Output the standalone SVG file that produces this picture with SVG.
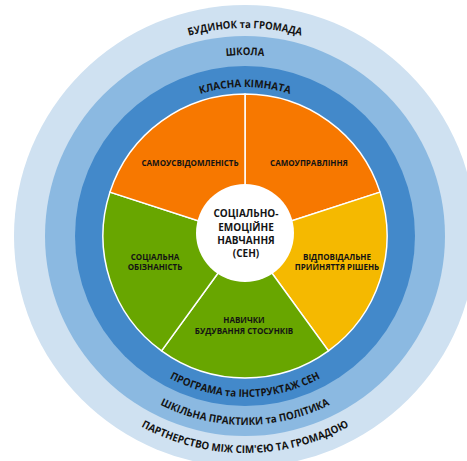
<svg xmlns="http://www.w3.org/2000/svg" xmlns:xlink="http://www.w3.org/1999/xlink" width="467" height="461" viewBox="0 0 467 461">
  <style>
    .ring-txt { font-family: "Open Sans", "Noto Sans", "DejaVu Sans", sans-serif; font-weight: 700; font-size: 10.6px; fill: #141414; }
    .seg-txt { font-family: "Open Sans", "Noto Sans", "DejaVu Sans", sans-serif; font-weight: 700; font-size: 8px; fill: #141414; text-anchor: middle; }
    .core-txt { font-family: "Open Sans", "Noto Sans", "DejaVu Sans", sans-serif; font-weight: 700; font-size: 10px; fill: #141414; text-anchor: middle; }
    .wedge { stroke: #ffffff; stroke-width: 1.5; stroke-linejoin: round; }
  </style>
  <defs>
    <!-- upper arcs run left to right over the top -->
    <path id="top208" d="M 37,236 A 208,208 0 0 1 453,236"/>
    <path id="top181" d="M 64,236 A 181,181 0 0 1 426,236"/>
    <path id="top149" d="M 96,236 A 149,149 0 0 1 394,236"/>
    <!-- lower arcs run left to right under the bottom -->
    <path id="bot161" d="M 84,236 A 161,161 0 0 0 406,236"/>
    <path id="bot189" d="M 56,236 A 189,189 0 0 0 434,236"/>
    <path id="bot217" d="M 28,236 A 217,217 0 0 0 462,236"/>
  </defs>

  <rect width="467" height="461" fill="#ffffff"/>

  <!-- concentric context rings -->
  <g id="ring-home">
    <circle cx="245" cy="236" r="231" fill="#CFE1F1"/>
  </g>
  <g id="ring-school">
    <circle cx="245" cy="236" r="200" fill="#8BB9E1"/>
  </g>
  <g id="ring-classroom">
    <circle cx="245" cy="236" r="170" fill="#4389CA"/>
  </g>

  <!-- ring captions -->
  <g id="ring-labels">
    <text class="ring-txt"><textPath xlink:href="#top208" href="#top208" startOffset="50%" text-anchor="middle" textLength="114" lengthAdjust="spacingAndGlyphs">БУДИНОК та ГРОМАДА</textPath></text>
    <text class="ring-txt"><textPath xlink:href="#top181" href="#top181" startOffset="50%" text-anchor="middle" textLength="38" lengthAdjust="spacingAndGlyphs">ШКОЛА</textPath></text>
    <text class="ring-txt"><textPath xlink:href="#top149" href="#top149" startOffset="50%" text-anchor="middle" textLength="91" lengthAdjust="spacingAndGlyphs">КЛАСНА КІМНАТА</textPath></text>
    <text class="ring-txt"><textPath xlink:href="#bot161" href="#bot161" startOffset="50%" text-anchor="middle" textLength="157" lengthAdjust="spacingAndGlyphs">ПРОГРАМА та ІНСТРУКТАЖ СЕН</textPath></text>
    <text class="ring-txt"><textPath xlink:href="#bot189" href="#bot189" startOffset="50%" text-anchor="middle" textLength="176" lengthAdjust="spacingAndGlyphs">ШКІЛЬНА ПРАКТИКИ та ПОЛІТИКА</textPath></text>
    <text class="ring-txt"><textPath xlink:href="#bot217" href="#bot217" startOffset="50%" text-anchor="middle" textLength="217" lengthAdjust="spacingAndGlyphs">ПАРТНЕРСТВО МІЖ СІМ'ЄЮ ТА ГРОМАДОЮ</textPath></text>
  </g>

  <!-- five competence wedges -->
  <g id="wedge-self-management">
    <path class="wedge" fill="#F77800" d="M 245,236 L 245,94 A 142,142 0 0 1 380.05,192.12 Z"/>
    <text class="seg-txt" x="309" y="165.5">САМОУПРАВЛІННЯ</text>
  </g>
  <g id="wedge-decision-making">
    <path class="wedge" fill="#F5B900" d="M 245,236 L 380.05,192.12 A 142,142 0 0 1 328.47,350.88 Z"/>
    <text class="seg-txt" x="337" y="259.5">ВІДПОВІДАЛЬНЕ</text>
    <text class="seg-txt" x="337" y="270">ПРИЙНЯТТЯ РІШЕНЬ</text>
  </g>
  <g id="wedge-relationships">
    <path class="wedge" fill="#68A600" d="M 245,236 L 328.47,350.88 A 142,142 0 0 1 161.53,350.88 Z"/>
    <text class="seg-txt" x="244" y="323">НАВИЧКИ</text>
    <text class="seg-txt" x="244" y="333.5">БУДУВАННЯ СТОСУНКІВ</text>
  </g>
  <g id="wedge-social-awareness">
    <path class="wedge" fill="#68A600" d="M 245,236 L 161.53,350.88 A 142,142 0 0 1 109.95,192.12 Z"/>
    <text class="seg-txt" x="155" y="259.5">СОЦІАЛЬНА</text>
    <text class="seg-txt" x="155" y="270">ОБІЗНАНІСТЬ</text>
  </g>
  <g id="wedge-self-awareness">
    <path class="wedge" fill="#F77800" d="M 245,236 L 109.95,192.12 A 142,142 0 0 1 245,94 Z"/>
    <text class="seg-txt" x="190" y="165.5">САМОУСВІДОМЛЕНІСТЬ</text>
  </g>

  <!-- hub -->
  <g id="core">
    <circle cx="245" cy="233" r="49" fill="#ffffff"/>
    <text class="core-txt" x="246" y="217">СОЦІАЛЬНО-</text>
    <text class="core-txt" x="246" y="230.5">ЕМОЦІЙНЕ</text>
    <text class="core-txt" x="246" y="244">НАВЧАННЯ</text>
    <text class="core-txt" x="246" y="257">(СЕН)</text>
  </g>
</svg>
